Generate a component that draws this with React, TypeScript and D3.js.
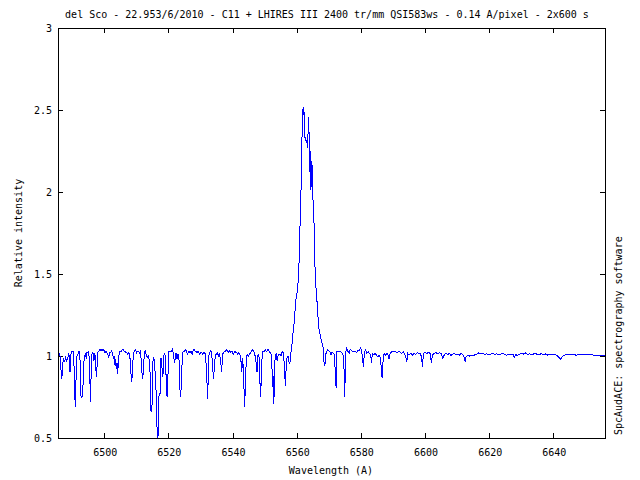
import React from "react";
import * as d3 from "d3";

const titleText = "del Sco - 22.953/6/2010 - C11 + LHIRES III 2400 tr/mm QSI583ws - 0.14 A/pixel - 2x600 s";
const xLabelText = "Wavelength (A)";
const yLabelText = "Relative intensity";
const sideText = "SpcAudACE: spectrography software";

const xDomain = [6485.6, 6656.1];
const yDomain = [0.5, 3];
const xTicks = [6500, 6520, 6540, 6560, 6580, 6600, 6620, 6640];
const yTicks = [0.5, 1, 1.5, 2, 2.5, 3];
const yTickLabels = ["0.5", "1", "1.5", "2", "2.5", "3"];

const segBlue1: [number, number][] = [
  [6485.6, 1.0], [6485.9, 1.02], [6486.2, 1.01], [6486.5, 0.92], [6486.8, 0.86], [6487.1, 0.96], [6487.4, 0.98],
  [6487.7, 0.97], [6488.0, 0.99], [6488.3, 0.97], [6488.6, 0.98], [6488.9, 1.02], [6489.1, 1.0], [6489.35, 0.9],
  [6489.6, 1.01], [6489.9, 1.03], [6490.2, 1.03], [6490.5, 1.02], [6490.75, 0.8], [6491.0, 0.69], [6491.25, 0.88],
  [6491.5, 1.0], [6491.8, 1.01], [6492.1, 1.03], [6492.4, 1.03], [6492.7, 0.76], [6493.0, 0.75], [6493.3, 0.76],
  [6493.6, 0.95], [6493.9, 1.0], [6494.2, 1.02], [6494.4, 0.98], [6494.6, 1.02], [6494.9, 1.02], [6495.2, 1.03],
  [6495.5, 0.9], [6495.7, 0.72], [6495.95, 0.9], [6496.2, 1.01], [6496.5, 1.02], [6496.8, 0.97], [6497.1, 1.02],
  [6497.4, 0.92], [6497.6, 0.87], [6497.85, 0.97], [6498.1, 1.03], [6498.4, 1.03], [6498.7, 1.04], [6499.0, 1.03],
  [6499.3, 1.04], [6499.6, 1.03], [6499.9, 1.04], [6500.2, 1.02], [6500.5, 1.03], [6500.8, 1.02], [6501.1, 1.01],
  [6501.4, 0.99], [6501.7, 1.02], [6502.0, 1.02], [6502.3, 1.03], [6502.6, 1.02], [6502.9, 0.98], [6503.2, 1.0],
  [6503.4, 0.94], [6503.6, 0.98], [6503.8, 0.92], [6504.0, 0.96], [6504.2, 0.89], [6504.4, 0.96], [6504.7, 1.02],
  [6505.0, 1.03], [6505.3, 1.03], [6505.6, 1.04], [6505.9, 1.04], [6506.2, 1.03], [6506.5, 1.03], [6506.8, 1.02],
  [6507.1, 1.02], [6507.4, 1.01], [6507.7, 1.02], [6508.0, 1.0], [6508.3, 0.9], [6508.6, 0.84], [6508.9, 0.96],
  [6509.2, 1.02], [6509.5, 1.03], [6509.8, 1.04], [6510.1, 1.02], [6510.4, 1.03], [6510.7, 1.03], [6511.0, 1.02],
  [6511.3, 1.03], [6511.6, 0.96], [6511.9, 0.86], [6512.2, 0.9], [6512.5, 1.02], [6512.8, 1.03], [6513.1, 1.01],
  [6513.4, 0.99], [6513.7, 1.0], [6514.0, 0.98], [6514.3, 0.9], [6514.6, 0.66], [6514.9, 0.7], [6515.2, 0.97],
  [6515.5, 0.99], [6515.8, 0.92], [6516.1, 0.84], [6516.35, 0.62], [6516.6, 0.5], [6516.85, 0.52], [6517.1, 0.77],
  [6517.4, 0.77], [6517.7, 0.99], [6517.9, 0.97], [6518.1, 0.9], [6518.3, 0.87], [6518.5, 1.0], [6518.8, 1.01],
  [6519.1, 1.0], [6519.4, 0.8], [6519.6, 0.75], [6519.85, 0.86], [6520.1, 1.03], [6520.4, 1.03], [6520.7, 1.03],
  [6521.0, 1.03], [6521.3, 1.04], [6521.6, 1.01], [6521.9, 0.96], [6522.1, 0.98],
];

const segBlue2: [number, number][] = [
  [6522.4, 1.02], [6522.7, 0.98], [6523.0, 1.01], [6523.3, 0.99], [6523.6, 0.8], [6523.85, 0.75], [6524.1, 0.86],
  [6524.4, 1.02], [6524.7, 1.03], [6525.0, 1.03], [6525.3, 1.04], [6525.6, 1.03], [6525.9, 1.01], [6526.2, 1.02],
  [6526.5, 1.03], [6526.8, 1.02], [6527.1, 1.03], [6527.4, 1.01], [6527.7, 1.03], [6528.0, 1.04], [6528.3, 1.03],
  [6528.6, 1.03], [6528.9, 1.02], [6529.2, 1.03], [6529.5, 1.02], [6529.8, 1.01], [6530.1, 1.02], [6530.4, 1.02],
  [6530.7, 1.01], [6531.0, 1.02], [6531.3, 1.02], [6531.6, 1.01], [6531.95, 0.88], [6532.27, 0.74], [6532.55, 1.0],
  [6532.9, 1.02], [6533.2, 1.03], [6533.5, 1.02], [6533.8, 0.93], [6534.1, 0.86], [6534.4, 0.96], [6534.7, 1.01],
  [6535.0, 1.01], [6535.3, 1.02], [6535.6, 1.0], [6535.9, 1.02], [6536.3, 0.97], [6536.6, 0.9], [6536.9, 1.01],
  [6537.2, 1.02], [6537.5, 1.03], [6537.8, 1.03], [6538.1, 1.04], [6538.4, 1.03], [6538.7, 1.02], [6539.0, 1.03],
  [6539.3, 1.02], [6539.6, 1.03], [6539.9, 1.03], [6540.2, 1.01], [6540.5, 1.02], [6540.8, 1.03], [6541.1, 1.02],
  [6541.4, 1.02], [6541.7, 1.01], [6542.0, 1.02], [6542.3, 1.01], [6542.6, 0.98], [6542.87, 0.9], [6543.18, 0.99],
  [6543.5, 0.84], [6543.8, 0.69], [6544.1, 0.9], [6544.4, 1.0], [6544.7, 1.01], [6545.0, 1.0], [6545.3, 1.01],
  [6545.6, 1.02], [6545.9, 1.03], [6546.2, 1.04], [6546.5, 1.03], [6546.8, 1.02], [6547.05, 1.0], [6547.34, 0.96],
  [6547.65, 0.9], [6547.96, 1.01], [6548.28, 0.99], [6548.59, 0.82], [6548.8, 0.75], [6549.0, 0.92], [6549.3, 1.02],
  [6549.6, 1.03], [6549.9, 1.03], [6550.2, 1.04], [6550.5, 1.03], [6550.8, 1.03], [6551.1, 1.04], [6551.4, 1.03],
  [6551.7, 1.02], [6552.0, 1.01], [6552.23, 0.99], [6552.43, 0.81], [6552.64, 0.88], [6552.85, 0.71], [6553.06, 0.82],
  [6553.27, 1.0], [6553.6, 1.01], [6553.9, 0.97], [6554.2, 1.0], [6554.5, 1.01], [6554.8, 1.01], [6555.1, 1.0],
  [6555.4, 1.02], [6555.7, 1.03], [6555.95, 1.01], [6556.18, 0.92], [6556.49, 0.82], [6556.8, 0.97], [6557.1, 1.0],
  [6557.4, 1.0], [6557.7, 0.95], [6558.0, 0.97], [6558.3, 1.04],
];

const segHAlpha: [number, number][] = [
  [6558.6, 1.08], [6558.85, 1.14], [6559.05, 1.17], [6559.3, 1.22], [6559.5, 1.28], [6559.75, 1.34], [6560.0, 1.38],
  [6560.25, 1.39], [6560.45, 1.46], [6560.65, 1.5], [6560.85, 1.68], [6561.05, 1.8], [6561.26, 1.91], [6561.45, 2.12],
  [6561.65, 2.33], [6561.85, 2.45], [6562.0, 2.52], [6562.15, 2.47], [6562.3, 2.49], [6562.45, 2.36], [6562.6, 2.33],
  [6562.8, 2.33], [6563.0, 2.3], [6563.2, 2.31], [6563.4, 2.27], [6563.6, 2.4], [6563.8, 2.46], [6563.95, 2.12],
  [6564.1, 2.27], [6564.3, 2.2], [6564.45, 2.01], [6564.6, 2.19], [6564.8, 2.16], [6565.0, 1.99], [6565.2, 1.9],
  [6565.4, 1.81], [6565.6, 1.59], [6565.8, 1.5], [6566.0, 1.42], [6566.25, 1.36], [6566.5, 1.28], [6566.7, 1.22],
  [6566.9, 1.17], [6567.2, 1.14], [6567.6, 1.1], [6568.0, 1.07], [6568.3, 1.05], [6568.55, 0.95], [6568.8, 0.94],
  [6569.0, 1.01],
];

const segRed: [number, number][] = [
  [6569.17, 1.016], [6569.6, 1.041], [6570.0, 1.033], [6570.4, 1.026], [6570.7, 1.006], [6571.0, 1.026], [6571.45, 1.016],
  [6571.77, 1.006], [6572.08, 0.874], [6572.29, 0.803], [6572.5, 1.026], [6572.9, 1.026], [6573.3, 1.03], [6573.7, 1.026],
  [6574.16, 1.016], [6574.47, 1.006], [6574.78, 0.915], [6575.0, 0.752], [6575.2, 1.016], [6575.6, 1.047], [6576.03, 1.026],
  [6576.34, 1.016], [6576.65, 1.041], [6577.07, 1.033], [6577.5, 1.026], [6577.9, 1.03], [6578.32, 1.026], [6578.73, 1.022],
  [6579.15, 1.037], [6579.56, 1.033], [6579.87, 1.047], [6580.19, 1.037], [6580.5, 0.996], [6580.8, 0.935], [6581.12, 1.026],
  [6581.54, 1.037], [6581.85, 1.016], [6582.27, 1.026], [6582.68, 1.016], [6583.1, 1.006], [6583.3, 0.955], [6583.6, 1.016],
  [6584.03, 1.006], [6584.45, 1.016], [6584.86, 1.006], [6585.28, 0.996], [6585.7, 1.006], [6586.11, 0.986], [6586.42, 0.915],
  [6586.63, 0.864], [6586.94, 0.976], [6587.26, 1.016], [6587.67, 1.006], [6588.09, 1.016], [6588.5, 1.006], [6588.8, 0.98],
  [6589.13, 1.016], [6589.65, 1.026], [6590.17, 1.026], [6590.7, 1.03], [6591.2, 1.022], [6591.7, 1.026], [6592.25, 1.024],
  [6592.76, 1.016], [6593.28, 1.026], [6593.8, 1.006], [6594.1, 0.986], [6594.32, 0.966], [6594.6, 1.016], [6595.05, 1.006],
  [6595.57, 1.016], [6596.1, 1.006], [6596.6, 1.016], [6597.1, 1.01], [6597.65, 1.02], [6598.2, 1.016],
];

const segFarRed: [number, number][] = [
  [6598.48, 1.016], [6598.9, 0.996], [6599.2, 0.935], [6599.5, 1.016], [6600.0, 1.02], [6600.56, 1.016], [6601.08, 1.022],
  [6601.6, 1.016], [6602.0, 0.955], [6602.3, 1.006], [6602.84, 1.016], [6603.47, 1.02], [6603.99, 1.012], [6604.5, 1.02],
  [6605.0, 1.016], [6605.55, 0.986], [6606.07, 1.01], [6606.6, 1.016], [6607.1, 1.008], [6607.6, 1.016], [6608.1, 1.004],
  [6608.66, 1.012], [6609.18, 1.016], [6609.7, 1.008], [6610.2, 1.012], [6610.74, 1.006], [6611.26, 1.016], [6611.78, 1.008],
  [6612.2, 0.992], [6612.5, 0.966], [6612.8, 0.996], [6613.34, 1.002], [6613.86, 1.0], [6614.38, 1.004], [6614.9, 1.0],
  [6615.4, 1.006], [6616.15, 1.01], [6616.8, 1.02], [6617.4, 1.012], [6618.0, 1.016], [6618.64, 1.008], [6619.27, 1.014],
  [6619.89, 1.006], [6620.5, 1.012], [6621.1, 1.018], [6621.76, 1.01], [6622.4, 1.014], [6623.0, 1.006], [6623.6, 1.012],
  [6624.26, 1.016], [6624.9, 1.008], [6625.5, 1.004], [6626.1, 1.012], [6626.75, 1.008], [6627.4, 1.01], [6627.8, 0.992],
  [6628.2, 1.008], [6628.8, 1.004], [6629.45, 1.01], [6630.08, 1.016], [6630.7, 1.012], [6631.3, 1.018], [6631.95, 1.01],
  [6632.57, 1.014], [6633.2, 1.008], [6633.8, 1.012], [6634.4, 1.016], [6635.07, 1.008], [6635.7, 1.01], [6636.3, 1.014],
  [6636.94, 1.008], [6637.56, 1.012], [6638.2, 1.006], [6638.8, 1.01], [6639.4, 1.008], [6640.06, 1.012], [6640.68, 1.008],
  [6641.3, 1.0], [6641.9, 0.988], [6642.3, 0.98], [6642.76, 0.996], [6643.4, 1.004], [6644.0, 1.008], [6644.6, 1.006],
  [6645.25, 1.012], [6645.9, 1.008], [6646.5, 1.01], [6647.1, 1.004], [6647.75, 1.008], [6648.4, 1.01], [6649.0, 1.012],
  [6649.6, 1.008], [6650.25, 1.01], [6650.9, 1.006], [6651.5, 1.012], [6652.1, 1.008], [6652.74, 1.004], [6653.36, 1.006],
  [6654.0, 1.002], [6654.6, 1.004], [6655.2, 1.0], [6655.86, 1.002], [6656.1, 1.0],
];

const spectrum = [...segBlue1, ...segBlue2, ...segHAlpha, ...segRed, ...segFarRed];

const W = 640;
const H = 480;
const left = 58;
const right = 605;
const top = 28;
const bottom = 438;
const font = "'DejaVu Sans Mono', monospace";

export default function App() {
  const x = d3.scaleLinear().domain(xDomain).range([left, right]);
  const y = d3.scaleLinear().domain(yDomain).range([bottom, top]);
  const line = d3
    .line<[number, number]>()
    .x((d) => x(d[0]))
    .y((d) => y(d[1]));
  const tick = 5;
  return (
    <svg
      width={W}
      height={H}
      style={{ position: "absolute", left: 0, top: 0, background: "#fff" }}
      fontFamily={font}
      fontSize={10}
    >
      <rect x={0} y={0} width={W} height={H} fill="#fff" />
      <defs>
        <clipPath id="plotclip">
          <rect x={left} y={top} width={right - left + 1} height={bottom - top + 1} />
        </clipPath>
      </defs>
      <text x={327} y={18} textAnchor="middle" fill="#000">
        {titleText}
      </text>
      <g shapeRendering="crispEdges" stroke="#000" strokeWidth={1}>
        {xTicks.map((t) => (
          <g key={"xt" + t}>
            <line x1={Math.round(x(t)) + 0.5} x2={Math.round(x(t)) + 0.5} y1={bottom} y2={bottom - tick} />
            <line x1={Math.round(x(t)) + 0.5} x2={Math.round(x(t)) + 0.5} y1={top} y2={top + tick} />
          </g>
        ))}
        {yTicks.map((t) => (
          <g key={"yt" + t}>
            <line x1={left} x2={left + tick} y1={Math.round(y(t)) + 0.5} y2={Math.round(y(t)) + 0.5} />
            <line x1={right} x2={right - tick} y1={Math.round(y(t)) + 0.5} y2={Math.round(y(t)) + 0.5} />
          </g>
        ))}
      </g>
      <path
        d={line(spectrum) || ""}
        fill="none"
        stroke="#0000ff"
        strokeWidth={1}
        shapeRendering="crispEdges"
        clipPath="url(#plotclip)"
      />
      <rect
        x={left + 0.5}
        y={top + 0.5}
        width={right - left}
        height={bottom - top}
        fill="none"
        stroke="#000"
        strokeWidth={1}
        shapeRendering="crispEdges"
      />
      {xTicks.map((t) => (
        <text key={"xl" + t} x={x(t) + 1} y={456} textAnchor="middle" fill="#000">
          {String(t)}
        </text>
      ))}
      {yTicks.map((t, i) => (
        <text key={"yl" + t} x={52} y={y(t) + 3.5} textAnchor="end" fill="#000">
          {yTickLabels[i]}
        </text>
      ))}
      <text x={331} y={474} textAnchor="middle" fill="#000">
        {xLabelText}
      </text>
      <text transform={`translate(22,233) rotate(-90)`} textAnchor="middle" fill="#000">
        {yLabelText}
      </text>
      <text transform={`translate(622,435) rotate(-90)`} textAnchor="start" fill="#000">
        {sideText}
      </text>
    </svg>
  );
}
